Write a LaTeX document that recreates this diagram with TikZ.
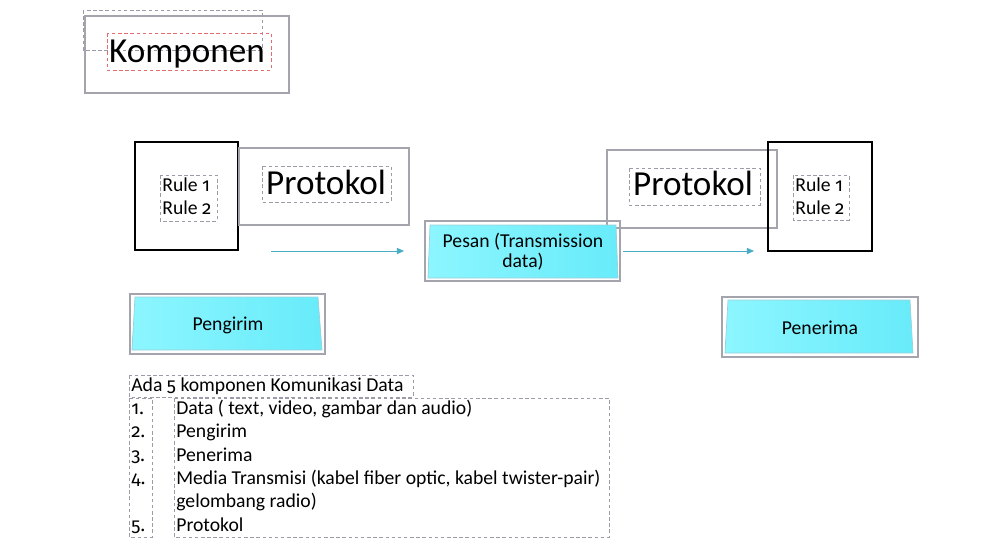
\documentclass[tikz,border=0pt]{standalone}
\usepackage{fontspec}
\setmainfont{Carlito}
\newfontfamily\oldnum{Fira Sans}[Numbers=OldStyle,Scale=0.95]
\usetikzlibrary{arrows.meta}
\definecolor{framegray}{HTML}{A4A4AC}
\definecolor{dashgray}{HTML}{9C9CA8}
\definecolor{dashred}{HTML}{E46C6C}
\definecolor{arrowteal}{HTML}{4BACC6}
\definecolor{cyanlight}{HTML}{8CF6FF}
\definecolor{cyandark}{HTML}{68EBFA}
\definecolor{cyanedge}{HTML}{9CCFD8}
\newcommand{\onum}[1]{{\oldnum #1}}

\begin{document}
\begin{tikzpicture}[x=0.02cm,y=-0.02cm,font=\fontsize{11.2}{13.3}\selectfont,inner sep=0pt,
  frame/.style={draw=framegray,line width=0.6pt},
  blackframe/.style={draw=black,line width=0.7pt},
  dashbox/.style={draw=dashgray,line width=0.5pt,dash pattern=on 2pt off 1.5pt},
  bigtext/.style={font=\fontsize{20}{24}\selectfont},
  cyanbox/.style={left color=cyanlight,right color=cyandark,draw=cyanedge,line width=0.4pt},
  flow/.style={draw=arrowteal,line width=0.5pt,-{Triangle[length=4pt,width=3.5pt]}}]
  \useasboundingbox (0,0) rectangle (1002,549);
  % title
  \draw[dashbox] (83,10) rectangle (262,50);
  \draw[frame] (85,16) rectangle (289,93);
  \draw[dashbox,draw=dashred] (107,33) rectangle (271,70);
  \node[bigtext,anchor=base] (title) at (187,62) {Komponen};
  % sender side: rules and protocol
  \draw[blackframe] (135,142) rectangle (238,250);
  \draw[dashbox] (160,175) rectangle (217,221);
  \node[anchor=base west] (ruleLa) at (162,191) {Rule \onum{1}};
  \node[anchor=base west] (ruleLb) at (162,214) {Rule \onum{2}};
  \draw[frame] (239,148) rectangle (409,225);
  \draw[dashbox] (262,166) rectangle (391,202);
  \node[bigtext,anchor=base] (protoL) at (326,194) {Protokol};
  % receiver side: protocol and rules
  \draw[frame] (607,150) rectangle (777,228);
  \draw[dashbox] (629,168) rectangle (760,205);
  \node[bigtext,anchor=base] (protoR) at (693,195) {Protokol};
  \draw[blackframe] (768,142) rectangle (872,251);
  \draw[dashbox] (793,175) rectangle (849,220);
  \node[anchor=base west] (ruleRa) at (795,191) {Rule \onum{1}};
  \node[anchor=base west] (ruleRb) at (795,214) {Rule \onum{2}};
  % message
  \draw[frame] (425,221) rectangle (620,281);
  \shade[cyanbox] (430,225) -- (616,225) -- (618,278) -- (428,278) -- cycle;
  \node[anchor=base] (msgA) at (523,247) {Pesan (Transmission};
  \node[anchor=base] (msgB) at (523,267) {data)};
  % flow arrows
  \coordinate (fromL) at (271,251);
  \coordinate (toL) at (404,251);
  \coordinate (fromR) at (623,251);
  \coordinate (toR) at (754,251);
  \draw[flow] (fromL) -- (toL);
  \draw[flow] (fromR) -- (toR);
  % sender and receiver
  \draw[frame] (130,294) rectangle (325,354);
  \shade[cyanbox] (135,297) -- (318,297) -- (322,350) -- (132,350) -- cycle;
  \node[anchor=base] (sender) at (228,330) {Pengirim};
  \draw[frame] (722,297) rectangle (918,357);
  \shade[cyanbox] (728,300) -- (910,300) -- (913,353) -- (725,353) -- cycle;
  \node[anchor=base] (receiver) at (820,334) {Penerima};
  % list of components
  \draw[dashbox] (129,375) rectangle (413,397);
  \node[anchor=base west] (listhead) at (131,391) {Ada \onum{5} komponen Komunikasi Data};
  \draw[dashbox] (129,398) rectangle (152,537);
  \draw[dashbox] (174,398) rectangle (609,537);
  \foreach \y/\n/\t in {414/1./{Data ( text, video, gambar dan audio)},
      437/2./Pengirim, 461/3./Penerima,
      484/4./{Media Transmisi (kabel fiber optic, kabel twister-pair)},
      507//{gelombang radio)}, 531/5./Protokol}{
    \node[anchor=base west] (num\y) at (131,\y) {\onum{\n}};
    \node[anchor=base west] (item\y) at (176,\y) {\t};
  }
\end{tikzpicture}
\end{document}
